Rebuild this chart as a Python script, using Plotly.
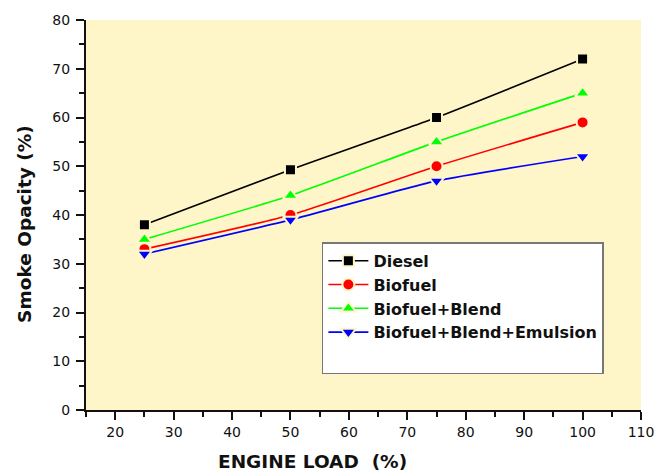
import plotly.graph_objects as go

load = [25, 50, 75, 100]
diesel = [38, 49.3, 60, 72]
biofuel = [33, 40, 50, 59]
blend = [35, 44, 55, 65]
emulsion = [32, 39, 47, 52]

BG = "#FEF5C8"
FONT = "DejaVu Sans"
series = [
    ("Diesel", diesel, "#000000", "square", 11),
    ("Biofuel", biofuel, "#FF0000", "circle", 12),
    ("Biofuel+Blend", blend, "#00FF00", "triangle-up", 13),
    ("Biofuel+Blend+Emulsion", emulsion, "#0000FF", "triangle-down", 13),
]

fig = go.Figure()
for name, ys, col, sym, sz in series:
    fig.add_trace(go.Scatter(
        x=load, y=ys, name=name, mode="lines+markers",
        line=dict(color=col, width=1.6, shape="spline", smoothing=0.5),
        marker=dict(symbol=sym, size=sz, color=col, line=dict(color=BG, width=2)),
    ))
# blank legend row to reproduce the empty space at the bottom of the legend box
fig.add_trace(go.Scatter(x=[None], y=[None], name=" ", mode="lines",
                         line=dict(width=0, color="white"), hoverinfo="skip"))

axis_common = dict(
    showgrid=False, zeroline=False, showline=True, linecolor="#111111", linewidth=2,
    ticks="outside", ticklen=8, tickwidth=1.5, tickcolor="#111111",
    tickfont=dict(family=FONT, size=14, color="#111111"),
    automargin=False,
)
title_font = dict(family=FONT, size=18.5, color="#111111", weight="bold")

fig.update_layout(
    width=655, height=472,
    margin=dict(l=86, r=14, t=20, b=62),
    paper_bgcolor="white", plot_bgcolor=BG,
    xaxis=dict(range=[15, 110], dtick=10, tick0=10,
               minor=dict(dtick=5, ticks="outside", ticklen=5, tickwidth=1.5, tickcolor="#111111"),
               **axis_common),
    yaxis=dict(range=[0, 80], dtick=10, ticklabelstandoff=3,
               minor=dict(dtick=5, ticks="outside", ticklen=5, tickwidth=1.5, tickcolor="#111111"),
               **axis_common),
    annotations=[
        dict(text="ENGINE LOAD\u00a0\u00a0(%)", xref="paper", yref="paper",
             x=0.409, y=-0.133, xanchor="center", yanchor="middle",
             showarrow=False, font=title_font),
        dict(text="Smoke Opacity (%)", xref="paper", yref="paper",
             x=-0.11, y=0.477, xanchor="center", yanchor="middle", textangle=-90,
             showarrow=False, font=title_font),
    ],
    legend=dict(x=0.425, y=0.43, xanchor="left", yanchor="top",
                bgcolor="white", bordercolor="#777777", borderwidth=1.5,
                font=dict(family=FONT, size=16, color="#111111", weight="bold"),
                tracegroupgap=0, itemwidth=40),
    showlegend=True,
)

fig.write_html("out.html", config={"displayModeBar": False},
               post_script="document.body.style.margin='0';")
